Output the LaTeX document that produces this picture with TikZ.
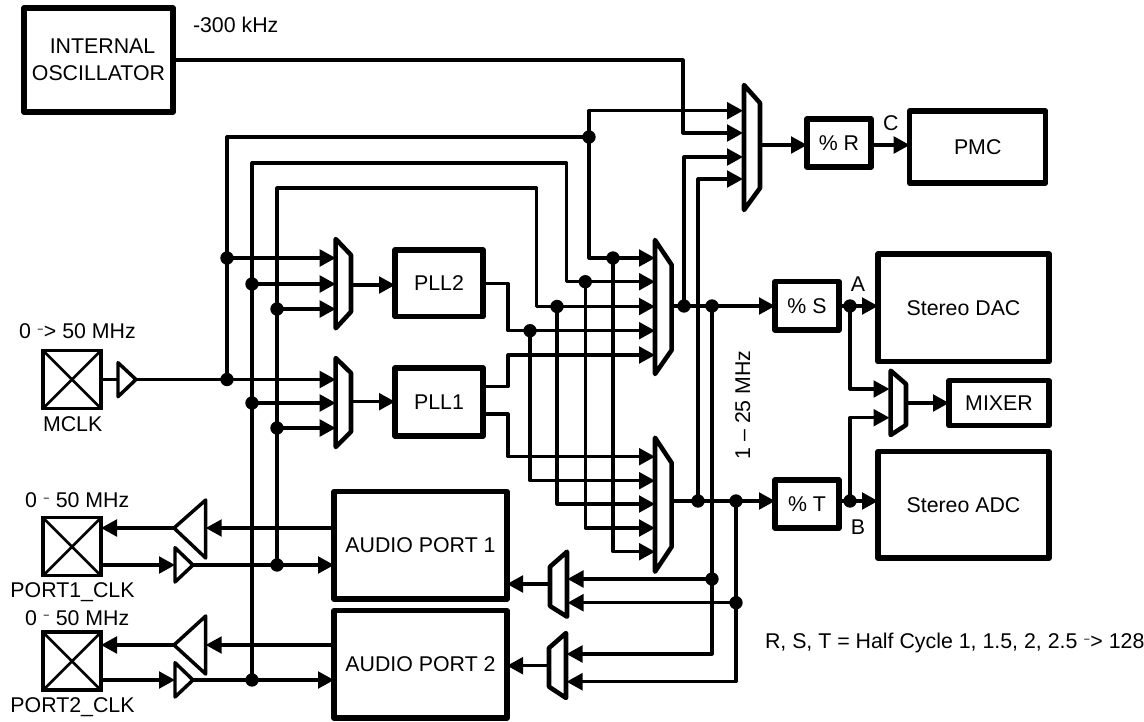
\documentclass[tikz,border=0pt]{standalone}
\usepackage{fontspec}
\setmainfont{Liberation Sans}
\usetikzlibrary{arrows.meta}
\tikzset{
  every node/.style={font=\fontsize{16}{20}\selectfont},
  wire/.style={line width=2.4pt,line join=round},
  wa/.style={wire,-{Triangle[length=12pt,width=12.5pt]}},
  blk/.style={draw,line width=3.9pt,line join=round,outer sep=0pt,inner sep=0pt,align=center},
  muxs/.style={draw,line width=3.4pt,line join=round},
  buf/.style={draw,line width=2.6pt,line join=round},
  padbox/.style={draw,line width=2.6pt,outer sep=0pt,inner sep=0pt},
  padx/.style={line width=2pt},
  jdot/.style={circle,fill=black,draw=none,inner sep=0pt,minimum size=10pt},
  lbl/.style={inner sep=0pt,outer sep=0pt},
}
\newcommand{\blockat}[6]{%
  \pgfmathsetmacro\bw{(#4-#2)*0.75}\pgfmathsetmacro\bh{(#5-#3)*0.75}%
  \node[blk,minimum width=\bw pt,minimum height=\bh pt] (#1) at ({(#2+#4)/2},{(#3+#5)/2}) {#6};}
\newcommand{\padat}[4]{%
  \pgfmathsetmacro\bw{(#3-#2)*0.75}%
  \node[padbox,minimum width=\bw pt,minimum height=\bw pt] (#1) at ({(#2+#3)/2},#4) {};
  \draw[padx] (#1.north west) -- (#1.south east) (#1.north east) -- (#1.south west);}
% name, tall-side x, short-side x, ytop, yup, ylow, ybot
\newcommand{\muxat}[7]{%
  \draw[muxs] (#2,#4) -- (#3,#5) -- (#3,#6) -- (#2,#7) -- cycle;
  \coordinate (#1) at (#3,{(#5+#6)/2});}
% name, base x, ytop, ybot, apex x, apex y
\newcommand{\triat}[6]{%
  \draw[buf] (#2,#3) -- (#5,#6) -- (#2,#4) -- cycle;
  \coordinate (#1-apex) at (#5,#6);
  \coordinate (#1-base) at (#2,#6);}
\newcommand{\jd}[3]{\node[jdot] (#1) at (#2,#3) {};}
\newcommand{\smd}{\raisebox{4.6pt}{\scalebox{1}[0.5]{-}}}
\begin{document}
\begin{tikzpicture}[x=0.75pt,y=-0.75pt]
\useasboundingbox (0,0) rectangle (1144,721);

% blocks
\blockat{osc}{24}{8}{173}{112}{\hspace*{6pt}INTERNAL\\OSCILLATOR}
\blockat{pllb}{395}{250}{483}{316.7}{PLL2}
\blockat{plla}{395}{368}{483}{436}{PLL1}
\blockat{porta}{334}{491.7}{507}{599}{AUDIO PORT 1}
\blockat{portb}{334}{610.7}{507}{718}{AUDIO PORT 2}
\blockat{rdiv}{807}{119}{871}{167}{\% R}
\blockat{pmc}{909.7}{111}{1045.7}{183}{PMC}
\blockat{sdiv}{775}{281.7}{839}{330}{\% S}
\blockat{dac}{878}{254}{1049}{361.7}{Stereo DAC}
\blockat{tdiv}{775}{480}{839}{528}{\% T}
\blockat{adc}{878}{451.7}{1049}{558}{Stereo ADC}
\blockat{mixer}{949}{380.7}{1049}{425.7}{MIXER}

% pads
\padat{pm}{43}{101}{379.5}
\padat{pp}{43}{101}{546.7}
\padat{pq}{43}{101}{661.2}

% multiplexers
\muxat{m3o}{744}{760}{85}{103}{188}{210}
\muxat{m2o}{655}{671.7}{240}{265}{350}{374}
\muxat{m1o}{655}{671.7}{437.7}{463}{546.7}{571.7}
\muxat{lbo}{335.7}{351}{239}{255}{311.7}{328.3}
\muxat{lao}{335.7}{351}{358}{373}{431.7}{447}
\muxat{xao}{567}{550}{551.7}{566.7}{606}{616.7}
\muxat{xbo}{566}{549}{633}{648}{686.7}{698}
\muxat{mxo}{890.7}{906}{370.7}{384}{425}{435}

% buffers
\triat{bm}{118}{362.7}{396.7}{136}{379.5}
\triat{bpo}{205.7}{500}{558}{174}{528}
\triat{bpi}{175}{547.7}{582}{193}{565}
\triat{bqo}{205.7}{616}{674}{174}{645}
\triat{bqi}{175}{662.7}{697}{193}{680}

% terminals
\coordinate (m3a) at (743,110.7); \coordinate (m3b) at (743,133);
\coordinate (m3c) at (743,157);   \coordinate (m3d) at (743,179);
\coordinate (m3x) at (760,145);
\coordinate (m2a) at (655,258);   \coordinate (m2b) at (655,281.7);
\coordinate (m2c) at (655,306.5); \coordinate (m2d) at (655,330.7);
\coordinate (m2e) at (655,355);   \coordinate (m2x) at (671.7,306);
\coordinate (m1a) at (655,456.7); \coordinate (m1b) at (655,480.7);
\coordinate (m1c) at (655,504);   \coordinate (m1d) at (655,528);
\coordinate (m1e) at (655,551.7); \coordinate (m1x) at (671.7,501);
\coordinate (lba) at (335.7,258); \coordinate (lbb) at (335.7,284); \coordinate (lbc) at (335.7,309);
\coordinate (lbx) at (351,285);   \coordinate (pllbi) at (395,285);
\coordinate (laa) at (335.7,379.5); \coordinate (lab) at (335.7,403); \coordinate (lac) at (335.7,428);
\coordinate (lax) at (351,401.7); \coordinate (pllai) at (395,401.7);
\coordinate (pllao) at (483,386.7); \coordinate (pllap) at (483,414);
\coordinate (rdivi) at (807,145); \coordinate (rdivo) at (871,145); \coordinate (pmci) at (909.7,145);
\coordinate (tdivi) at (775,501); \coordinate (tdivo) at (839,501); \coordinate (adci) at (878,501);
\coordinate (sdivi) at (775,306); \coordinate (sdivo) at (839,306); \coordinate (daci) at (878,306);
\coordinate (mxa) at (889.5,389); \coordinate (mxb) at (889.5,417.7);
\coordinate (mxx) at (906,403);   \coordinate (mixi) at (949,403);
\coordinate (xai) at (567.5,579); \coordinate (xaj) at (567.5,602.7);
\coordinate (xax) at (550,584);   \coordinate (pae) at (507,584);
\coordinate (xbi) at (566.5,654); \coordinate (xbj) at (566.5,681.7);
\coordinate (xbx) at (549,665.7); \coordinate (pbe) at (507,665.7);
\coordinate (pao) at (334,528);   \coordinate (pai) at (334,565);
\coordinate (pbo) at (334,645);   \coordinate (pbi) at (334,680);
\coordinate (ppo) at (101,528);   \coordinate (ppi) at (101,565);
\coordinate (pqo) at (101,645);   \coordinate (pqi) at (101,680);
\coordinate (tOsc) at (683,133);
\coordinate (tA) at (252,163);    \coordinate (tB) at (566.7,163);
\coordinate (tC) at (277,188);    \coordinate (tD) at (536.7,188);
\coordinate (tE) at (508,330.7);  \coordinate (tF) at (508,355);  \coordinate (tG) at (508,456.7);

% junctions
\jd{jm}{227}{379.5} \jd{jma}{227}{258} \jd{jb}{252}{284} \jd{jc}{277}{309}
\jd{jbb}{252}{403} \jd{jcc}{277}{428} \jd{jcp}{277}{565} \jd{jbp}{252}{680}
\jd{jtop}{589}{137} \jd{ja1}{613}{258} \jd{ja2}{585.3}{281.7} \jd{ja3}{557}{306.5} \jd{ja4}{530}{330.7}
\jd{jo1}{684}{306} \jd{jo2}{712}{306} \jd{jo3}{698}{501} \jd{jo4}{736}{501}
\jd{jx1}{712}{579} \jd{jx2}{736}{602.7}
\jd{js}{850}{306} \jd{jt}{850}{501}

% connectors
\draw[wa] (osc.east) -| (tOsc) -- (m3b);
\draw[wa] (jtop.center) |- (m3a);
\draw[wa] (jtop.center) |- (m2a);
\draw[wire] (jm.center) |- (jtop.center);
\draw[wa] (jbp.center) -- (tA) -- (tB) |- (m2b);
\draw[wa] (jcp.center) -- (tC) -- (tD) |- (m2c);
\draw[wa] (bm-apex) -- (laa);
\draw[wire] (pm.east) -- (bm-base);
\draw[wa] (jma.center) -- (lba);
\draw[wa] (jb.center) -- (lbb);
\draw[wa] (jc.center) -- (lbc);
\draw[wa] (jbb.center) -- (lab);
\draw[wa] (jcc.center) -- (lac);
\draw[wa] (lbx) -- (pllbi);
\draw[wa] (lax) -- (pllai);
\draw[wa] (pllb.east) -| (tE) -- (m2d);
\draw[wa] (pllao) -| (tF) -- (m2e);
\draw[wa] (pllap) -| (tG) -- (m1a);
\draw[wa] (ja4.center) |- (m1b);
\draw[wa] (ja3.center) |- (m1c);
\draw[wa] (ja2.center) |- (m1d);
\draw[wa] (ja1.center) |- (m1e);
\draw[wa] (m3x) -- (rdivi);
\draw[wa] (rdivo) -- (pmci);
\draw[wa] (m2x) -- (sdivi);
\draw[wa] (m1x) -- (tdivi);
\draw[wa] (jo1.center) |- (m3c);
\draw[wa] (jo3.center) |- (m3d);
\draw[wa] (jo2.center) |- (xbi);
\draw[wa] (jo4.center) |- (xbj);
\draw[wa] (jx1.center) -- (xai);
\draw[wa] (jx2.center) -- (xaj);
\draw[wa] (xax) -- (pae);
\draw[wa] (xbx) -- (pbe);
\draw[wire] (sdivo) -- (js.center);
\draw[wire] (tdivo) -- (jt.center);
\draw[wa] (js.center) -- (daci);
\draw[wa] (jt.center) -- (adci);
\draw[wa] (js.center) |- (mxa);
\draw[wa] (jt.center) |- (mxb);
\draw[wa] (mxx) -- (mixi);
\draw[wa] (pao) -- (bpo-base);
\draw[wa] (bpo-apex) -- (ppo);
\draw[wa] (ppi) -- (bpi-base);
\draw[wa] (bpi-apex) -- (pai);
\draw[wa] (pbo) -- (bqo-base);
\draw[wa] (bqo-apex) -- (pqo);
\draw[wa] (pqi) -- (bqi-base);
\draw[wa] (bqi-apex) -- (pbi);

% labels
\node[lbl,anchor=west] (tosc) at (193,25) {-300 kHz};
\node[lbl,anchor=west] (tm) at (19,331) {0 \smd> 50 MHz};
\node[lbl] (tmclk) at (72.7,424) {MCLK};
\node[lbl,anchor=west] (tp1) at (25,500) {0 \smd{} 50 MHz};
\node[lbl] (tp1c) at (72.5,592) {PORT1\_CLK};
\node[lbl,anchor=west] (tp2) at (25,617.7) {0 \smd{} 50 MHz};
\node[lbl] (tp2c) at (72.5,707) {PORT2\_CLK};
\node[lbl,rotate=90] (tmid) at (742.7,405) {1 -- 25 MHz};
\node[lbl] (tla) at (858,284) {A};
\node[lbl] (tlb) at (858,526.7) {B};
\node[lbl] (tlc) at (890.7,123) {C};
\node[lbl,anchor=west] (tnote) at (765,643) {R, S, T = Half Cycle 1, 1.5, 2, 2.5 \smd> 128};
\end{tikzpicture}
\end{document}
